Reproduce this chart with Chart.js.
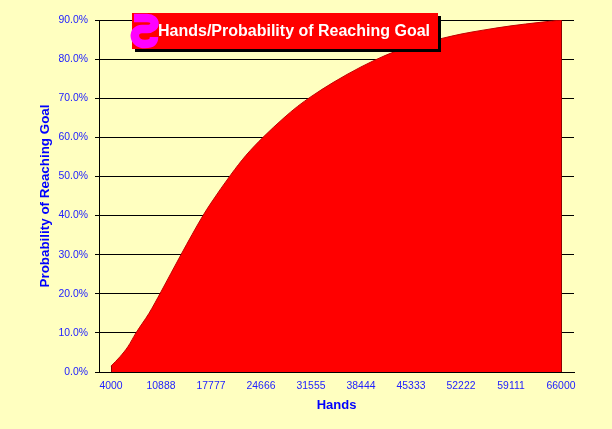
<!DOCTYPE html>
<html>
<head>
<meta charset="utf-8">
<style>
  html, body { margin: 0; padding: 0; background: #ffffc0; }
  canvas { display: block; }
</style>
</head>
<body>
<canvas id="goalChart" width="612" height="429"></canvas>
<script src="https://cdn.jsdelivr.net/npm/chart.js@4/dist/chart.umd.js"></script>
<script>
const chartTitle = 'Hands/Probability of Reaching Goal';
const xTitle = 'Hands';
const yTitle = 'Probability of Reaching Goal';

const xTicks = [4000, 10888, 17777, 24666, 31555, 38444, 45333, 52222, 59111, 66000];
const yTicks = [0, 10, 20, 30, 40, 50, 60, 70, 80, 90];

const hands = [4000, 5240, 6342, 7444, 9236, 10888, 13644, 16676, 17777, 20533, 22600, 24944, 27836, 29696, 31555, 34587, 38444, 41752, 45333, 49604, 52222, 55254, 59111, 63110, 66000];
const probability = [1.5, 3.9, 6.5, 10, 15, 20.5, 30, 40, 43.2, 50.5, 55.4, 60, 65, 67.9, 70.4, 74, 78, 80.9, 83.4, 85.3, 86.4, 87.4, 88.5, 89.4, 90];

const points = hands.map((h, i) => ({ x: h, y: probability[i] }));

// outline of the area on its left and right sides
const areaEdges = {
  id: 'areaEdges',
  afterDatasetsDraw(chart) {
    const { ctx, scales: { x, y } } = chart;
    const x0 = Math.round(x.getPixelForValue(hands[0])) + 0.5;
    const x1 = Math.round(x.getPixelForValue(hands[hands.length - 1])) + 0.5;
    ctx.save();
    ctx.strokeStyle = '#900000';
    ctx.lineWidth = 1;
    ctx.beginPath();
    ctx.moveTo(x0, y.getPixelForValue(probability[0]));
    ctx.lineTo(x0, y.getPixelForValue(0));
    ctx.moveTo(x1, y.getPixelForValue(90));
    ctx.lineTo(x1, y.getPixelForValue(0));
    ctx.stroke();
    ctx.restore();
  },
};

// red title box with its shadow and the magenta icon
const titleBox = {
  id: 'titleBox',
  afterDraw(chart) {
    const { ctx } = chart;
    ctx.save();
    ctx.fillStyle = '#000';
    ctx.fillRect(135, 16, 306, 36);
    ctx.fillStyle = '#f00';
    ctx.fillRect(132, 13, 306, 36);

    ctx.strokeStyle = '#ff00ff';
    ctx.lineWidth = 8.5;
    ctx.lineCap = 'butt';
    ctx.beginPath();
    ctx.moveTo(134, 18);
    ctx.lineTo(147, 18);
    ctx.bezierCurveTo(157, 18, 157, 29, 147, 29);
    ctx.lineTo(142, 29);
    ctx.bezierCurveTo(132, 29, 132, 44, 145, 44);
    ctx.bezierCurveTo(151, 44, 154, 42, 154, 37);
    ctx.stroke();

    ctx.fillStyle = '#fff';
    ctx.font = 'bold 16px "Liberation Sans"';
    ctx.textAlign = 'left';
    ctx.textBaseline = 'middle';
    ctx.fillText(chartTitle, 158, 32);
    ctx.restore();
  },
};

new Chart(document.getElementById('goalChart'), {
  type: 'line',
  data: {
    datasets: [
      {
        data: points,
        fill: 'origin',
        backgroundColor: '#ff0000',
        borderColor: '#c00000',
        borderWidth: 1,
        pointRadius: 0,
        cubicInterpolationMode: 'monotone',
      },
    ],
  },
  plugins: [areaEdges, titleBox],
  options: {
    responsive: false,
    animation: false,
    layout: { padding: { left: 0, top: 20, right: 38, bottom: 0 } },
    plugins: {
      legend: { display: false },
      tooltip: { enabled: false },
      title: { display: false },
    },
    scales: {
      x: {
        type: 'linear',
        min: 2347,
        max: 67791,
        afterFit(scale) { scale.height = 57; },
        afterBuildTicks(scale) { scale.ticks = xTicks.map((v) => ({ value: v })); },
        grid: { display: false, drawTicks: false },
        border: { display: true, color: '#000', width: 1 },
        ticks: {
          color: '#2020ff',
          font: { family: 'Liberation Sans', size: 10.4 },
          maxRotation: 0,
          autoSkip: false,
          padding: 8,
          callback: (v) => String(v),
        },
        title: {
          display: true,
          text: xTitle,
          color: '#0000ff',
          font: { family: 'Liberation Sans', size: 13, weight: 'bold' },
          padding: { top: 6, bottom: 16 },
        },
      },
      y: {
        min: 0,
        max: 90,
        afterFit(scale) { scale.width = 99; },
        afterBuildTicks(scale) { scale.ticks = yTicks.map((v) => ({ value: v })); },
        grid: { color: '#000', lineWidth: 1, tickLength: 4, drawTicks: true },
        border: { display: true, color: '#000', width: 1 },
        ticks: {
          color: '#2020ff',
          font: { family: 'Liberation Sans', size: 10.4 },
          padding: 7,
          callback: (v) => v.toFixed(1) + '%',
        },
        title: {
          display: true,
          text: yTitle,
          color: '#0000ff',
          font: { family: 'Liberation Sans', size: 13.4, weight: 'bold' },
          padding: { top: 37, bottom: 0 },
        },
      },
    },
  },
});
</script>
</body>
</html>
